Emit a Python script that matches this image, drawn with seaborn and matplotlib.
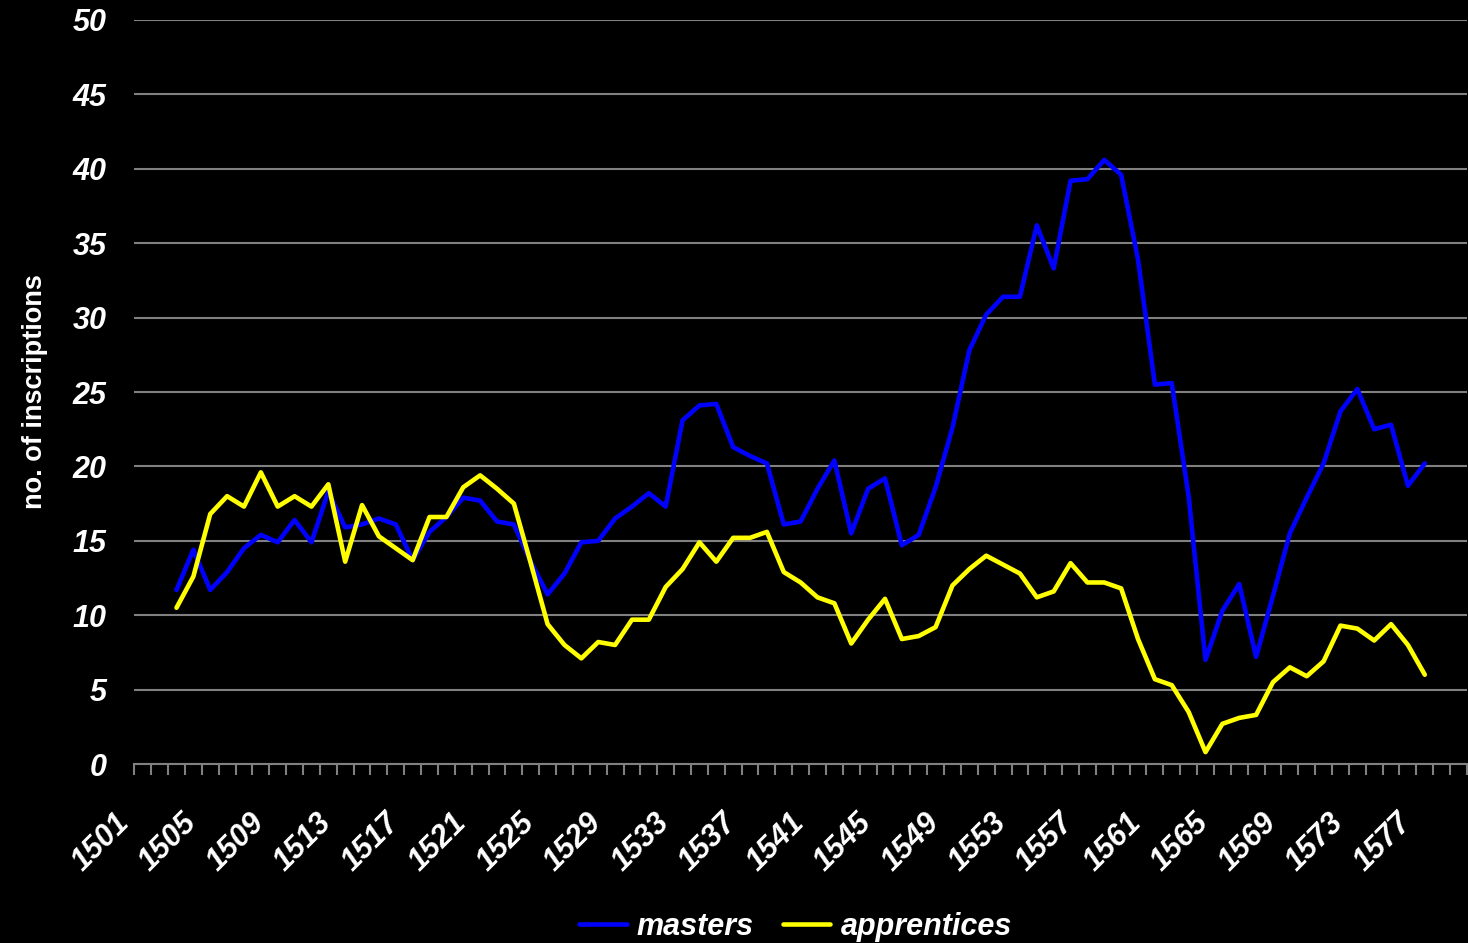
import numpy as np
import pandas as pd
import matplotlib
matplotlib.use("Agg")
import matplotlib.pyplot as plt
import matplotlib.transforms as mtransforms
from matplotlib.ticker import FixedLocator
import seaborn as sns

years = list(range(1503, 1578))
masters = [11.7, 14.4, 11.7, 12.9, 14.5, 15.4, 14.9, 16.4, 14.9, 18.3,
           15.9, 16.1, 16.5, 16.1, 13.7, 15.6, 16.6, 17.9, 17.7, 16.3,
           16.1, 13.6, 11.4, 12.8, 14.9, 15.0, 16.5, 17.3, 18.2, 17.3,
           23.1, 24.1, 24.2, 21.3, 20.7, 20.2, 16.1, 16.3, 18.5, 20.4,
           15.5, 18.5, 19.2, 14.7, 15.4, 18.6, 22.6, 27.8, 30.2, 31.4,
           31.4, 36.2, 33.3, 39.2, 39.3, 40.6, 39.6, 33.9, 25.5, 25.6,
           18.0, 7.0, 10.3, 12.1, 7.2, 11.3, 15.5, 17.9, 20.2, 23.7,
           25.2, 22.5, 22.8, 18.7, 20.2]
apprentices = [10.5, 12.6, 16.8, 18.0, 17.3, 19.6, 17.3, 18.0, 17.3, 18.8,
               13.6, 17.4, 15.3, 14.5, 13.7, 16.6, 16.6, 18.6, 19.4, 18.5,
               17.5, 13.5, 9.4, 8.0, 7.1, 8.2, 8.0, 9.7, 9.7, 11.9,
               13.1, 14.9, 13.6, 15.2, 15.2, 15.6, 12.9, 12.2, 11.2, 10.8,
               8.1, 9.7, 11.1, 8.4, 8.6, 9.2, 12.0, 13.1, 14.0, 13.4,
               12.8, 11.2, 11.6, 13.5, 12.2, 12.2, 11.8, 8.4, 5.7, 5.3,
               3.5, 0.8, 2.7, 3.1, 3.3, 5.5, 6.5, 5.9, 6.9, 9.3,
               9.1, 8.3, 9.4, 8.0, 6.0]
category_first, category_last = 1501, 1579
tick_years = list(range(1501, 1578, 4))
y_ticks = list(range(0, 51, 5))
series_names = ["masters", "apprentices"]
series_colors = ["#0000FF", "#FFFF00"]

df = pd.DataFrame({
    "year": years * 2,
    "value": masters + apprentices,
    "series": ["masters"] * len(years) + ["apprentices"] * len(years),
})

sns.set_theme(style="dark")
plt.rcParams["font.family"] = ["Liberation Sans", "DejaVu Sans"]

fig = plt.figure(figsize=(14.68, 9.43), dpi=100, facecolor="black")
ax = fig.add_axes([0.0915, 0.1898, 0.9078, 0.789])
ax.set_facecolor("black")

sns.lineplot(data=df, x="year", y="value", hue="series", hue_order=series_names,
             palette=series_colors, linewidth=3.3, ax=ax, legend=False, zorder=3)

ax.set_xlim(category_first - 0.5, category_last + 0.5)
ax.set_ylim(0, 50)

for s in ["left", "right", "top"]:
    ax.spines[s].set_visible(False)
ax.spines["bottom"].set_color("#808080")
ax.spines["bottom"].set_linewidth(1.5)
ax.spines["bottom"].set_zorder(2)

ax.set_yticks(y_ticks)
ax.set_yticklabels([str(v) for v in y_ticks], fontsize=22, fontweight="bold",
                   fontstyle="italic", color="white")
ax.tick_params(axis="y", length=0, pad=20)
ax.yaxis.grid(True, color="#808080", linewidth=1.5)
ax.xaxis.grid(False)

ax.xaxis.set_major_locator(FixedLocator(tick_years))
ax.xaxis.set_minor_locator(FixedLocator(np.arange(category_first - 0.5, category_last + 0.6, 1)))
ax.set_xticklabels([str(y) for y in tick_years], fontsize=22, fontweight="bold",
                   fontstyle="italic", color="white", rotation=45, ha="right",
                   va="center", rotation_mode="anchor")
ax.tick_params(axis="x", which="major", length=0, pad=39)
ax.tick_params(axis="x", which="minor", length=8, width=1.5, color="#808080",
               direction="out", bottom=True)
offset = mtransforms.ScaledTranslation(-18 / 100, 0, fig.dpi_scale_trans)
for lab in ax.get_xticklabels():
    lab.set_transform(lab.get_transform() + offset)

ax.set_xlabel("")
ax.set_ylabel("no. of inscriptions", fontsize=19.5, fontweight="bold", color="white",
              labelpad=18)

handles = [plt.Line2D([], [], color=c, linewidth=3.3) for c in series_colors]
fig.legend(handles, series_names, loc="center", bbox_to_anchor=(0.542, 0.017),
           ncol=2, frameon=False, handlelength=1.55, handletextpad=0.33,
           columnspacing=0.95,
           prop={"size": 22, "weight": "bold", "style": "italic"},
           labelcolor="white")

fig.savefig("out.png", dpi=100, facecolor="black")
